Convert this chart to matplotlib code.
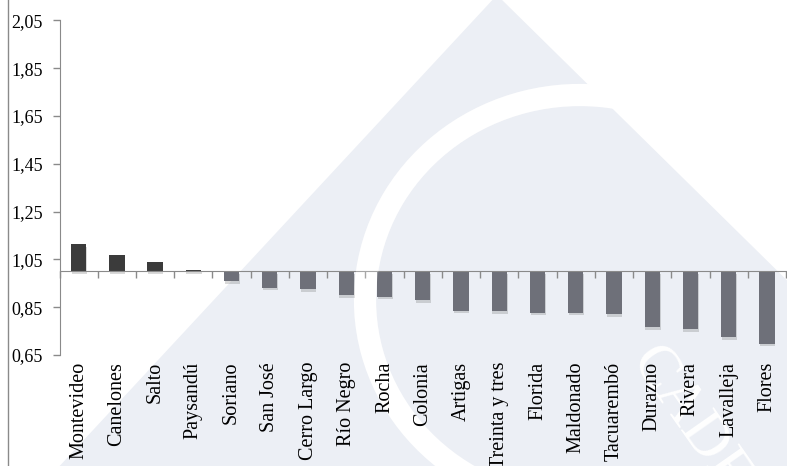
import numpy as np
import matplotlib
matplotlib.use("Agg")
import matplotlib.pyplot as plt
from matplotlib.patches import Polygon, Arc
from matplotlib.ticker import FixedLocator, FuncFormatter
import matplotlib.patheffects as pe

departments = ['Montevideo', 'Canelones', 'Salto', 'Paysandú', 'Soriano', 'San José',
               'Cerro Largo', 'Río Negro', 'Rocha', 'Colonia', 'Artigas', 'Treinta y tres',
               'Florida', 'Maldonado', 'Tacuarembó', 'Durazno', 'Rivera', 'Lavalleja', 'Flores']
ratio = [1.115, 1.07, 1.037, 1.007, 0.958, 0.932, 0.927, 0.901, 0.894, 0.880,
         0.836, 0.832, 0.827, 0.827, 0.821, 0.767, 0.757, 0.724, 0.698]
y_ticks = [0.65, 0.85, 1.05, 1.25, 1.45, 1.65, 1.85, 2.05]
base = 1.0

W, H = 787, 466
plt.rcParams['font.family'] = ['Liberation Serif', 'DejaVu Serif']
fig = plt.figure(figsize=(W / 100, H / 100), dpi=100)


def px(x, y):
    # pixel position (top-left origin) -> figure fraction
    return (x / W, 1 - y / H)


# watermark in the background
wm = '#eceff5'
fig.add_artist(Polygon([px(497, -5), px(55, 471), px(807, 471), px(807, 300)],
                       closed=True, transform=fig.transFigure, facecolor=wm,
                       edgecolor='none', zorder=0))
fig.add_artist(Arc(px(580, 300), 430 / W, 410 / H, theta1=70, theta2=250,
                   transform=fig.transFigure, color='white', lw=16, zorder=0.2))
fig.text(690 / W, 1 - 420 / H, 'CADE', rotation=-55, fontsize=44, color='white',
         ha='center', va='center', zorder=0.2)

# left border line
fig.add_artist(plt.Line2D([8 / W, 8 / W], [0, 1], color='#8a8a8a', lw=1.0,
                          transform=fig.transFigure))

ax = fig.add_axes([59.5 / W, 1 - 355 / H, (786 - 59.5) / W, (355 - 20.3) / H])
ax.set_facecolor('none')
ax.set_zorder(1)

x = np.arange(len(departments))
vals = np.array(ratio)
colors = ['#3b3b3b' if v >= base else '#6e7079' for v in vals]
bars = ax.bar(x, vals - base, bottom=base, width=0.4, color=colors, zorder=3)
for b in bars:
    b.set_path_effects([pe.SimplePatchShadow(offset=(0.5, -2), shadow_rgbFace='#555555',
                                             alpha=0.22), pe.Normal()])

ax.set_xlim(-0.5, len(departments) - 0.5)
ax.set_ylim(0.65, 2.05)

# y axis
ax.yaxis.set_major_locator(FixedLocator(y_ticks))
ax.yaxis.set_major_formatter(FuncFormatter(lambda v, p: f'{v:.2f}'.replace('.', ',')))
ax.tick_params(axis='y', direction='out', length=5, width=1, color='#8a8a8a',
               labelsize=13, pad=7)

# category axis crossing at 1.0, ticks between categories
for s in ['top', 'right']:
    ax.spines[s].set_visible(False)
ax.spines['left'].set_color('#8a8a8a')
ax.spines['bottom'].set_color('#8a8a8a')
ax.spines['bottom'].set_position(('data', base))
ax.spines['bottom'].set_zorder(4)
ax.set_xticks(np.arange(-0.5, len(departments)), minor=True)
ax.set_xticks(x)
ax.tick_params(axis='x', which='major', length=0, labelbottom=False)
ax.tick_params(axis='x', which='minor', direction='out', length=5, width=1, color='#8a8a8a')

for i, name in enumerate(departments):
    ax.annotate(name, xy=(i, 0), xycoords=('data', 'axes fraction'),
                xytext=(0, -5), textcoords='offset points', rotation=90,
                ha='center', va='top', fontsize=14.5, annotation_clip=False)

# the watermark band also lightens the bars it crosses (clipped to the plot area)
ax.add_patch(Arc(px(580, 300), 430 / W, 410 / H, theta1=70, theta2=250,
                 transform=fig.transFigure, color='white', lw=16, alpha=0.25, zorder=10))

fig.savefig('out.png', dpi=100)
